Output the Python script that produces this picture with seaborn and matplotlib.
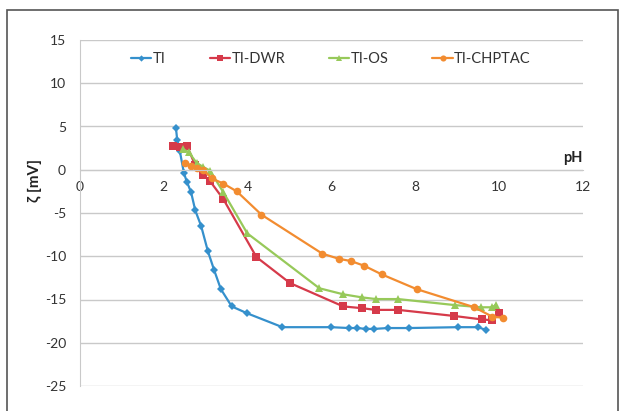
import matplotlib
matplotlib.use("Agg")
import matplotlib.pyplot as plt
import seaborn as sns
import pandas as pd
from matplotlib.patches import Rectangle

# -----------------------------
# Data
# -----------------------------
ti_ph = [2.29, 2.32, 2.38, 2.48, 2.55, 2.65, 2.75, 2.89, 3.05, 3.2, 3.36, 3.62,
         3.99, 4.83, 5.99, 6.42, 6.62, 6.82, 7.02, 7.34, 7.85, 9.01, 9.49, 9.68]
ti_zeta = [4.8, 3.4, 2.2, -0.4, -1.4, -2.6, -4.7, -6.5, -9.4, -11.6, -13.8, -15.8,
           -16.6, -18.2, -18.2, -18.3, -18.3, -18.4, -18.4, -18.3, -18.3, -18.2, -18.2, -18.5]

dwr_ph = [2.22, 2.38, 2.55, 2.75, 2.93, 3.1, 3.42, 4.21, 5.01, 6.28, 6.72, 7.05,
          7.59, 8.92, 9.58, 9.84, 10.0]
dwr_zeta = [2.7, 2.6, 2.8, 0.5, -0.6, -1.3, -3.4, -10.1, -13.1, -15.8, -16.0, -16.2,
            -16.2, -16.9, -17.3, -17.4, -16.6]

os_ph = [2.45, 2.6, 2.78, 2.93, 3.1, 3.42, 3.99, 5.71, 6.28, 6.72, 7.06, 7.59,
         8.95, 9.57, 9.84, 9.92]
os_zeta = [2.4, 2.0, 0.8, 0.35, -0.1, -2.6, -7.35, -13.7, -14.4, -14.75, -14.95, -14.95,
           -15.65, -15.9, -15.9, -15.6]

chp_ph = [2.5, 2.66, 2.78, 2.94, 3.14, 3.42, 3.74, 4.33, 5.78, 6.18, 6.46, 6.78,
          7.2, 8.03, 9.41, 9.84, 10.1]
chp_zeta = [0.8, 0.4, 0.15, 0.0, -1.0, -1.6, -2.5, -5.2, -9.7, -10.3, -10.55, -11.1,
            -12.1, -13.8, -15.9, -17.0, -17.1]

series_names = ["TI", "TI-DWR", "TI-OS", "TI-CHPTAC"]

# -----------------------------
# Styling
# -----------------------------
sns.set_style("white")
plt.rcParams["font.family"] = ["Lato", "DejaVu Sans"]
plt.rcParams["axes.unicode_minus"] = False

colors = {"TI": "#3590CC", "TI-DWR": "#D63A4A", "TI-OS": "#97C95A", "TI-CHPTAC": "#F28C30"}
markers = {"TI": "D", "TI-DWR": "s", "TI-OS": "^", "TI-CHPTAC": "o"}
msizes = {"TI": 4, "TI-DWR": 6, "TI-OS": 5.5, "TI-CHPTAC": 5.5}

data = {
    "TI": (ti_ph, ti_zeta),
    "TI-DWR": (dwr_ph, dwr_zeta),
    "TI-OS": (os_ph, os_zeta),
    "TI-CHPTAC": (chp_ph, chp_zeta),
}

fig = plt.figure(figsize=(6.22, 4.11), dpi=100)
ax = fig.add_axes([80 / 622, 1 - 386 / 411, 503 / 622, 346 / 411])

for name in series_names:
    xs, ys = data[name]
    df = pd.DataFrame({"pH": xs, "zeta": ys})
    sns.lineplot(data=df, x="pH", y="zeta", ax=ax, sort=False, estimator=None,
                 color=colors[name], marker=markers[name], markersize=msizes[name],
                 markeredgewidth=0, linewidth=1.6, label=name)

ax.set_xlim(0, 12)
ax.set_ylim(-25, 15)
ax.set_xticks(range(0, 13, 2))
ax.set_yticks(range(-25, 16, 5))
ax.set_xlabel("")
ax.set_ylabel("")

ax.yaxis.grid(True, color="#C9C9C9", linewidth=1)
ax.xaxis.grid(False)
ax.set_axisbelow(True)

for s in ["top", "right"]:
    ax.spines[s].set_visible(False)
ax.spines["left"].set_color("#C9C9C9")
ax.spines["bottom"].set_color("#C9C9C9")
ax.spines["bottom"].set_position(("data", 0))

ax.tick_params(axis="y", length=4, color="#C9C9C9", labelsize=10, labelcolor="#333333", pad=6)
ax.tick_params(axis="x", length=4, color="#C9C9C9", direction="out", labelsize=10,
               labelcolor="#333333", pad=4)

ax.text(12, 0.5, "pH", ha="right", va="bottom", fontsize=10.5, fontweight="bold", color="#222222")
fig.text(35 / 622, 1 - 180 / 411, "ζ [mV]", rotation=90, ha="center", va="center",
         fontsize=11, fontweight="bold", color="#222222")

leg = ax.legend(loc="upper left", bbox_to_anchor=((131 - 80) / 503, 1 - 12 / 346), ncol=4,
                frameon=False, fontsize=10.5, handlelength=1.4, handletextpad=0.1,
                columnspacing=3.0, borderpad=0, borderaxespad=0, markerscale=0.8)
for t in leg.get_texts():
    t.set_color("#333333")

# outer chart border
fig.patches.append(Rectangle((7 / 622, -0.02), 611 / 622, 1 - 10 / 411 + 0.02,
                             transform=fig.transFigure, fill=False,
                             edgecolor="#555555", linewidth=1.2))

fig.savefig("out.png", dpi=100)
